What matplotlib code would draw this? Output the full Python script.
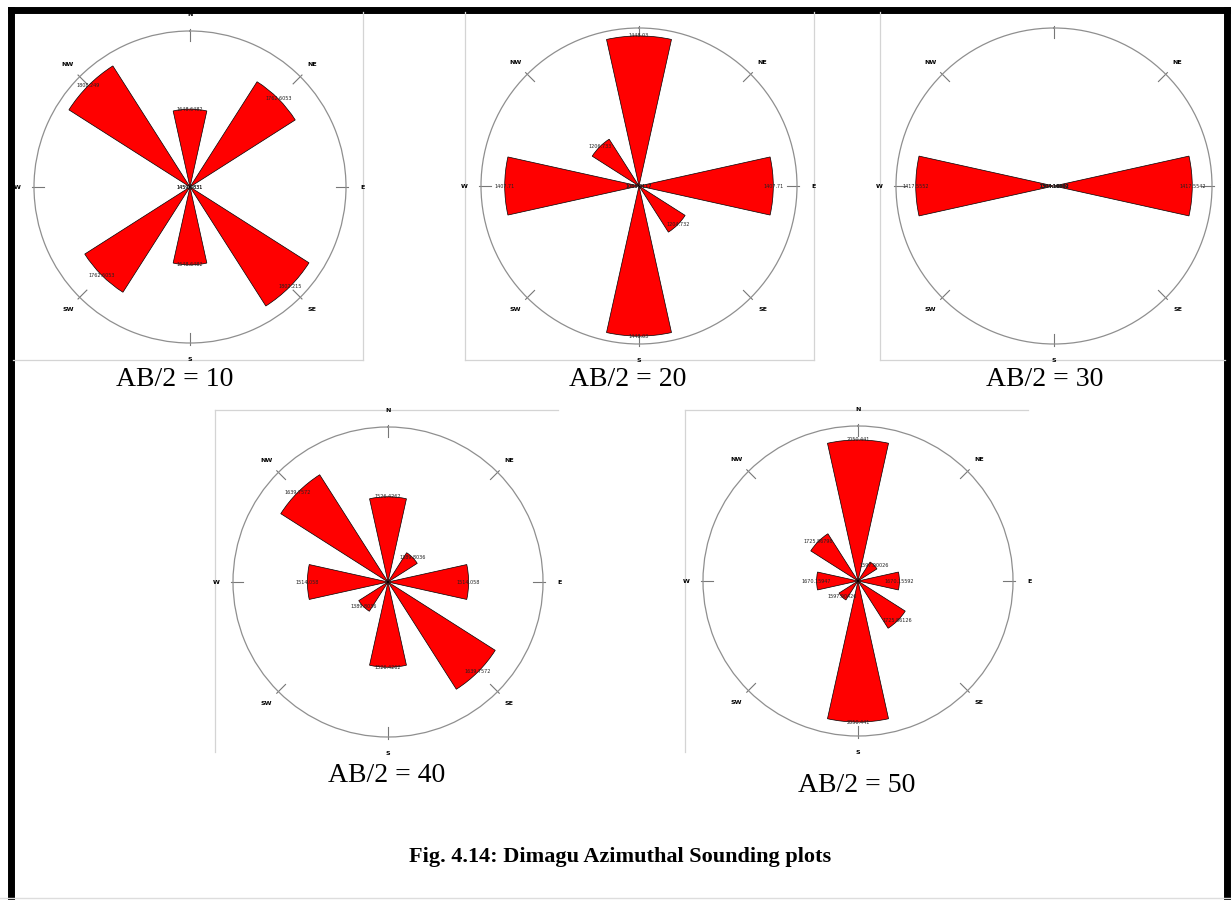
import numpy as np
import matplotlib.pyplot as plt

# compass directions shared by every sounding
directions = ['N', 'NE', 'E', 'SE', 'S', 'SW', 'W', 'NW']
azimuths = [0, 45, 90, 135, 180, 225, 270, 315]

# apparent resistivity per azimuth for each AB/2 spacing
rho_10 = [1648.6482, 1762.6053, 1459.4831, 1802.215, 1648.6482, 1762.6053, 1459.4831, 1808.249]
rho_20 = [1448.030, 1065.2117, 1407.71, 1204.732, 1448.030, 1065.2117, 1407.71, 1206.733]
rho_30 = [1304.16602, 1304.16602, 1417.5542, 1304.16602, 1304.16602, 1304.16602, 1417.5552, 1304.16602]
rho_40 = [1526.4262, 1389.8036, 1514.058, 1639.7572, 1526.4262, 1389.8036, 1514.058, 1639.7572]
rho_50 = [2050.441, 1597.90026, 1670.15592, 1725.86126, 2050.441, 1597.90426, 1670.15947, 1725.86798]

# radial range of each rose (centre value, rim value)
rlims = [(1459.4831, 1838.4), (1065.2117, 1468.2), (1304.16602, 1433.75),
         (1296.0, 1715.0), (1512.1, 2103.6)]
spacings = [10, 20, 30, 40, 50]
series = [rho_10, rho_20, rho_30, rho_40, rho_50]

W, H = 1231, 900
# centre (px) and radius (px) of each rose, caption centre
centres = [(190, 187, 156), (639, 186, 158), (1054, 186, 158), (388, 582, 155), (858, 581, 155)]
captions = [(175, 380), (628, 380), (1045, 380), (387, 776), (857, 786)]

fig = plt.figure(figsize=(W / 100, H / 100), dpi=100)

# page overlay in pixel coordinates: frames, captions, title
page = fig.add_axes([0, 0, 1, 1])
page.set_xlim(0, W)
page.set_ylim(H, 0)
page.axis('off')

frame = dict(color='black', lw=5, solid_capstyle='projecting')
page.plot([11, 11], [10, 905], **frame)
page.plot([11, 1227], [10, 10], **frame)
page.plot([1227, 1227], [10, 905], **frame)
page.plot([0, W], [898, 898], color='#dddddd', lw=1)

edge = dict(color='#d4d4d4', lw=0.9)
page.plot([363, 363], [12, 360], **edge)
page.plot([13, 363], [360, 360], **edge)
page.plot([465, 465], [12, 360], **edge)
page.plot([814, 814], [12, 360], **edge)
page.plot([465, 814], [360, 360], **edge)
page.plot([880, 880], [12, 360], **edge)
page.plot([880, 1225], [360, 360], **edge)
page.plot([215, 558], [410, 410], **edge)
page.plot([215, 215], [410, 752], **edge)
page.plot([685, 1028], [410, 410], **edge)
page.plot([685, 685], [410, 752], **edge)

for (x, y), ab in zip(captions, spacings):
    page.text(x, y, f'AB/2 = {ab}', ha='center', va='center',
              family='Liberation Serif', fontsize=20)

page.text(620, 857, 'Fig. 4.14: Dimagu Azimuthal Sounding plots', ha='center', va='center',
          family='Liberation Serif', fontweight='bold', fontsize=16)

theta = np.radians(azimuths)
width = np.radians(25)

for (cx, cy, R), rho, (rmin, rmax) in zip(centres, series, rlims):
    ax = fig.add_axes([(cx - R) / W, 1 - (cy + R) / H, 2 * R / W, 2 * R / H], projection='polar')
    ax.set_theta_zero_location('N')
    ax.set_theta_direction(-1)
    ax.set_ylim(rmin, rmax)
    ax.patch.set_alpha(0)
    ax.grid(False)
    ax.set_yticks([])
    ax.set_xticks(theta)
    ax.set_xticklabels(directions, fontsize=4.5, fontweight='bold')
    ax.tick_params(axis='x', pad=5, length=0)
    ax.spines['polar'].set_color('#8f8f8f')
    ax.spines['polar'].set_linewidth(0.9)

    ax.bar(theta, np.array(rho) - rmin, width=width, bottom=rmin, color='#ff0000',
           edgecolor='black', linewidth=0.5, zorder=2)

    # short direction ticks across the rim
    span = rmax - rmin
    for t in theta:
        ax.plot([t, t], [rmin + 0.935 * span, rmin + 1.015 * span], color='#777777',
                lw=0.8, clip_on=False, zorder=1)

    # value written at the tip of each petal
    for t, v in zip(theta, rho):
        ax.text(t, v, str(v), ha='center', va='center',
                fontsize=3.5, color='#222222', zorder=3)

fig.savefig('out.png', dpi=100)
